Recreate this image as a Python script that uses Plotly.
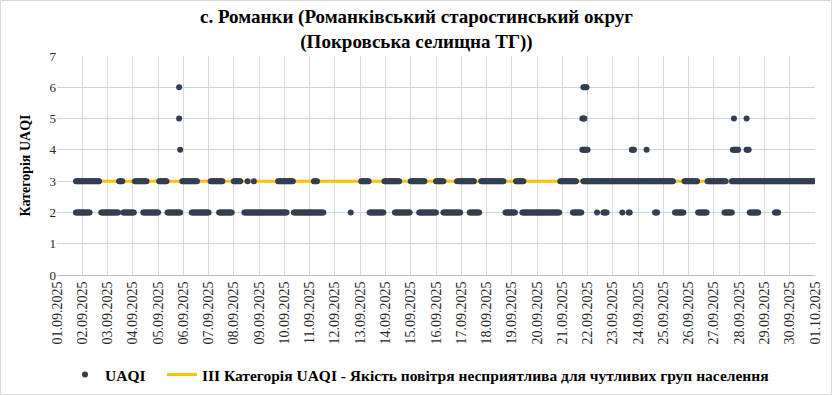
import pandas as pd
import plotly.graph_objects as go

# ---- Data (runs of hourly UAQI category values) ----
run_start = [
    # category 3
    "2025-09-01 18:00", "2025-09-03 11:00", "2025-09-04 02:00", "2025-09-05 01:00",
    "2025-09-05 23:00", "2025-09-07 02:00", "2025-09-08 00:00", "2025-09-08 13:00",
    "2025-09-08 19:00", "2025-09-09 18:00", "2025-09-11 04:00", "2025-09-13 01:00",
    "2025-09-13 23:00", "2025-09-15 00:00", "2025-09-16 00:00", "2025-09-16 20:00",
    "2025-09-16 22:00", "2025-09-17 19:00", "2025-09-19 04:00", "2025-09-20 22:00",
    "2025-09-21 20:00", "2025-09-25 20:00", "2025-09-26 18:00", "2025-09-27 17:00",
    # category 2
    "2025-09-01 18:00", "2025-09-02 18:00", "2025-09-03 15:00", "2025-09-04 10:00",
    "2025-09-05 09:00", "2025-09-06 08:00", "2025-09-07 10:00", "2025-09-08 10:00",
    "2025-09-10 09:00", "2025-09-12 15:00", "2025-09-13 09:00", "2025-09-14 09:00",
    "2025-09-15 08:00", "2025-09-16 07:00", "2025-09-17 08:00", "2025-09-18 18:00",
    "2025-09-19 10:00", "2025-09-21 10:00", "2025-09-22 09:00", "2025-09-22 15:00",
    "2025-09-23 09:00", "2025-09-23 15:00", "2025-09-24 16:00", "2025-09-25 11:00",
    "2025-09-26 09:00", "2025-09-27 10:00", "2025-09-28 10:00", "2025-09-29 10:00",
    # category 4
    "2025-09-05 21:00", "2025-09-21 19:00", "2025-09-23 18:00", "2025-09-24 08:00",
    "2025-09-27 18:00", "2025-09-28 07:00",
    # category 5
    "2025-09-05 20:00", "2025-09-21 19:00", "2025-09-27 19:00", "2025-09-28 07:00",
    # category 6
    "2025-09-05 20:00", "2025-09-21 20:00",
]
run_end = [
    # category 3
    "2025-09-02 16:00", "2025-09-03 14:00", "2025-09-04 13:00", "2025-09-05 08:00",
    "2025-09-06 13:00", "2025-09-07 13:00", "2025-09-08 06:00", "2025-09-08 13:00",
    "2025-09-08 19:00", "2025-09-10 08:00", "2025-09-11 07:00", "2025-09-13 08:00",
    "2025-09-14 13:00", "2025-09-15 13:00", "2025-09-16 07:00", "2025-09-16 20:00",
    "2025-09-17 12:00", "2025-09-18 16:00", "2025-09-19 11:00", "2025-09-21 13:00",
    "2025-09-25 09:00", "2025-09-26 08:00", "2025-09-27 11:00", "2025-09-30 23:00",
    # category 2
    "2025-09-02 07:00", "2025-09-03 10:00", "2025-09-04 01:00", "2025-09-05 00:00",
    "2025-09-05 21:00", "2025-09-07 00:00", "2025-09-07 22:00", "2025-09-10 02:00",
    "2025-09-11 13:00", "2025-09-12 15:00", "2025-09-13 22:00", "2025-09-14 23:00",
    "2025-09-16 00:00", "2025-09-16 23:00", "2025-09-17 17:00", "2025-09-19 03:00",
    "2025-09-20 21:00", "2025-09-21 18:00", "2025-09-22 09:00", "2025-09-22 18:00",
    "2025-09-23 09:00", "2025-09-23 16:00", "2025-09-24 18:00", "2025-09-25 19:00",
    "2025-09-26 17:00", "2025-09-27 17:00", "2025-09-28 18:00", "2025-09-29 13:00",
    # category 4
    "2025-09-05 21:00", "2025-09-22 00:00", "2025-09-23 20:00", "2025-09-24 08:00",
    "2025-09-27 23:00", "2025-09-28 09:00",
    # category 5
    "2025-09-05 20:00", "2025-09-21 21:00", "2025-09-27 19:00", "2025-09-28 07:00",
    # category 6
    "2025-09-05 20:00", "2025-09-21 23:00",
]
run_level = [3] * 24 + [2] * 28 + [4] * 6 + [5] * 4 + [6] * 2

threshold_level = 3
axis_start = "2025-09-01"
axis_end = "2025-10-01"

series_name = "UAQI"
threshold_name = "III Категорія UAQI - Якість повітря несприятлива для чутливих груп населення"
title_text = "с. Романки (Романківський старостинський округ<br>(Покровська селищна ТГ))"
y_title = "Категорія UAQI"

# ---- expand runs into hourly points ----
rows = []
for s, e, lvl in zip(run_start, run_end, run_level):
    for t in pd.date_range(s, e, freq="h"):
        rows.append((t, lvl))
df = pd.DataFrame(rows, columns=["time", "uaqi"]).sort_values("time", kind="stable")

day_ticks = pd.date_range(axis_start, axis_end, freq="D")
day_labels = list(day_ticks.strftime("%d.%m.%Y"))

FONT = "Liberation Serif"
MARK = "#333f50"
GOLD = "#ffc000"

fig = go.Figure()
fig.add_trace(go.Scatter(
    x=[df["time"].min(), df["time"].max()], y=[threshold_level, threshold_level],
    mode="lines", line=dict(color=GOLD, width=3), name=threshold_name,
    legendrank=2, hoverinfo="skip", legend="legend2",
))
fig.add_trace(go.Scatter(
    x=df["time"], y=df["uaqi"], mode="markers",
    marker=dict(color=MARK, size=6), name=series_name, legendrank=1, legend="legend",
))

W, H = 832, 395
ml, mr, mt, mb = 57, 17, 56, 120
pw, ph = W - ml - mr, H - mt - mb

legend_font = dict(family=FONT, size=15.5, color="#000000", weight="bold")
fig.update_layout(
    width=W, height=H, autosize=False,
    margin=dict(l=ml, r=mr, t=mt, b=mb, pad=0),
    paper_bgcolor="white", plot_bgcolor="white",
    font=dict(family=FONT, color="#262626"),
    showlegend=True,
    legend=dict(orientation="h", xref="container", yref="container",
                x=(86 - 21) / W, xanchor="left", y=(H - 375) / H, yanchor="middle",
                font=legend_font, bgcolor="rgba(0,0,0,0)", itemwidth=30),
    legend2=dict(orientation="h", xref="container", yref="container",
                 x=(172 - 10) / W, xanchor="left", y=(H - 375) / H, yanchor="middle",
                 font=legend_font, bgcolor="rgba(0,0,0,0)", itemwidth=30),
    xaxis=dict(type="date", range=[axis_start, axis_end], automargin=False,
               tickmode="array", tickvals=day_ticks, ticktext=day_labels,
               tickangle=-90, tickfont=dict(family=FONT, size=14, color="#262626"),
               showgrid=True, gridcolor="#d9d9d9", gridwidth=1,
               showline=True, linecolor="#bfbfbf", linewidth=1,
               ticks="", zeroline=False, fixedrange=True),
    yaxis=dict(range=[0, 7], tickmode="array", tickvals=list(range(0, 8)), automargin=False,
               tickfont=dict(family=FONT, size=13, color="#262626"),
               showgrid=True, gridcolor="#c9d4e8", gridwidth=1,
               zeroline=False, showline=False, ticks="",
               title=dict(text="<b>" + y_title + "</b>", standoff=15,
                          font=dict(family=FONT, size=14, color="#000000"))),
    annotations=[dict(text="<b>" + title_text + "</b>", xref="paper", yref="paper",
                      x=(416 - ml) / pw, y=(mt + ph - 30) / ph,
                      xanchor="center", yanchor="middle", showarrow=False,
                      font=dict(family=FONT, size=19, color="#000000"))],
    shapes=[dict(type="rect", xref="paper", yref="paper",
                 x0=(0.5 - ml) / pw, x1=(W - 0.5 - ml) / pw,
                 y0=(mt + ph - (H - 0.5)) / ph, y1=(mt + ph - 0.5) / ph,
                 line=dict(color="#d9d9d9", width=1), fillcolor="rgba(0,0,0,0)",
                 layer="below")],
)

fig.write_html("out.html", config={"displayModeBar": False},
               post_script="document.body.style.margin='0';")
